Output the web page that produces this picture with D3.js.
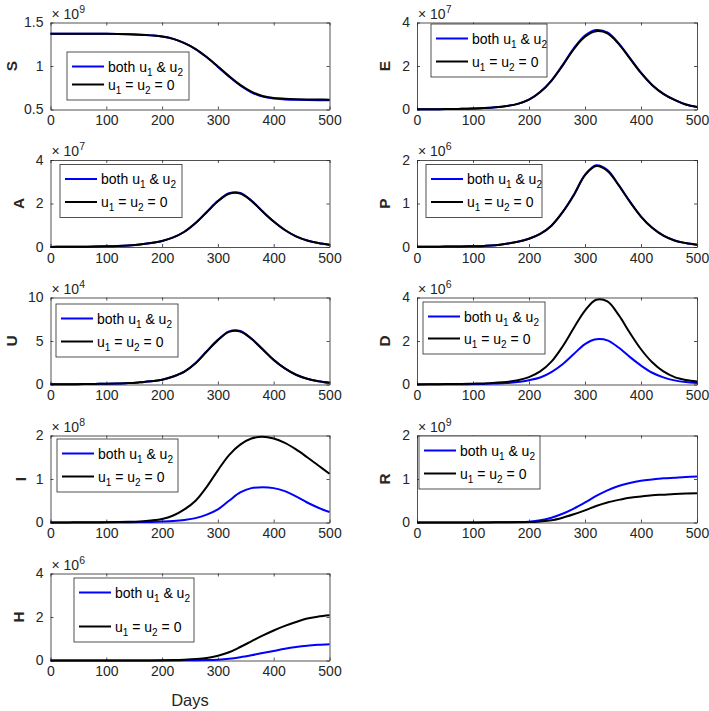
<!DOCTYPE html>
<html><head><meta charset="utf-8">
<script src="https://cdn.jsdelivr.net/npm/d3@7"></script>
<style>body{margin:0;background:#fff} text{font-family:Arial,"Liberation Sans",Helvetica,sans-serif}</style>
</head><body><svg id="c" width="709" height="711"></svg>
<script>
// ---------- DATA ----------
const days = [0,20,40,60,80,100,120,140,160,180,200,220,240,260,280,300,320,340,360,380,400,420,440,460,480,500];
const xTicks = [0,100,200,300,400,500];
const legendLabels = ["both u|1| & u|2|", "u|1| = u|2| = 0"];

// S (x1e9)
const S_both = [1.372,1.372,1.372,1.372,1.371,1.370,1.368,1.365,1.360,1.352,1.340,1.312,1.262,1.195,1.100,0.990,0.878,0.776,0.698,0.648,0.625,0.616,0.611,0.608,0.606,0.605];
const S_none = [1.372,1.372,1.372,1.372,1.371,1.370,1.368,1.365,1.360,1.352,1.340,1.312,1.262,1.195,1.103,0.995,0.885,0.783,0.705,0.655,0.632,0.624,0.619,0.616,0.614,0.613];
// E (x1e7)
const E_both = [0.01,0.01,0.015,0.02,0.03,0.045,0.065,0.10,0.16,0.26,0.45,0.80,1.33,2.04,2.81,3.40,3.65,3.54,3.05,2.37,1.69,1.13,0.72,0.44,0.23,0.12];
const E_none = [0.01,0.01,0.015,0.02,0.03,0.045,0.065,0.10,0.16,0.26,0.45,0.80,1.32,2.02,2.78,3.35,3.60,3.50,3.02,2.35,1.68,1.12,0.72,0.44,0.23,0.12];
// A (x1e7)
const A_both = [0.005,0.007,0.01,0.015,0.02,0.03,0.045,0.07,0.11,0.18,0.28,0.44,0.70,1.10,1.61,2.12,2.47,2.49,2.14,1.64,1.17,0.78,0.49,0.30,0.18,0.10];
const A_none = [0.005,0.007,0.01,0.015,0.02,0.03,0.045,0.07,0.11,0.18,0.28,0.44,0.70,1.10,1.60,2.10,2.45,2.46,2.12,1.63,1.17,0.78,0.49,0.30,0.18,0.10];
// P (x1e6)
const P_both = [0.005,0.006,0.008,0.01,0.013,0.018,0.025,0.04,0.075,0.12,0.19,0.30,0.49,0.80,1.20,1.66,1.88,1.77,1.43,1.05,0.70,0.44,0.26,0.15,0.09,0.05];
const P_none = [0.005,0.006,0.008,0.01,0.013,0.018,0.025,0.04,0.075,0.12,0.19,0.30,0.49,0.80,1.19,1.65,1.86,1.75,1.42,1.04,0.70,0.44,0.26,0.15,0.09,0.05];
// U (x1e4)
const U_both = [0.02,0.03,0.04,0.05,0.07,0.09,0.12,0.16,0.25,0.36,0.55,0.92,1.48,2.46,3.82,5.13,6.10,6.15,5.28,4.07,2.83,1.85,1.12,0.66,0.38,0.20];
const U_none = [0.02,0.03,0.04,0.05,0.07,0.09,0.12,0.16,0.25,0.36,0.55,0.92,1.48,2.45,3.80,5.10,6.05,6.10,5.25,4.05,2.82,1.85,1.12,0.66,0.38,0.20];
// D (x1e6)
const D_both = [0.005,0.006,0.008,0.01,0.014,0.02,0.028,0.045,0.07,0.12,0.20,0.32,0.57,0.93,1.40,1.86,2.08,2.03,1.70,1.27,0.87,0.54,0.33,0.19,0.11,0.07];
const D_none = [0.01,0.012,0.015,0.02,0.028,0.038,0.05,0.08,0.12,0.20,0.34,0.60,1.05,1.75,2.60,3.40,3.90,3.82,3.20,2.38,1.62,1.02,0.60,0.34,0.21,0.14];
// I (x1e8)
const I_both = [0.0005,0.001,0.001,0.0015,0.002,0.003,0.004,0.006,0.009,0.014,0.022,0.035,0.06,0.10,0.18,0.30,0.50,0.69,0.79,0.81,0.79,0.72,0.60,0.46,0.34,0.24];
const I_none = [0.001,0.002,0.003,0.004,0.005,0.007,0.01,0.015,0.025,0.045,0.08,0.16,0.30,0.50,0.82,1.20,1.55,1.79,1.93,1.97,1.93,1.83,1.68,1.50,1.31,1.12];
// R (x1e9)
const R_both = [0,0,0,0.001,0.001,0.002,0.003,0.004,0.006,0.01,0.02,0.05,0.11,0.20,0.32,0.46,0.61,0.74,0.84,0.91,0.96,0.99,1.015,1.03,1.045,1.055];
const R_none = [0,0,0,0,0.001,0.001,0.002,0.003,0.004,0.006,0.01,0.025,0.05,0.11,0.19,0.28,0.38,0.46,0.52,0.57,0.60,0.625,0.64,0.655,0.665,0.67];
// H (x1e6)
const H_both = [0,0,0,0,0,0,0,0,0,0,0.002,0.004,0.006,0.01,0.02,0.04,0.08,0.15,0.24,0.34,0.44,0.54,0.62,0.68,0.72,0.75];
const H_none = [0,0,0,0,0,0,0,0.001,0.002,0.004,0.01,0.02,0.04,0.07,0.12,0.22,0.38,0.62,0.88,1.14,1.38,1.59,1.77,1.93,2.02,2.08];

// y ticks / exponents per panel
const S_ticks=[0.5,1,1.5], E_ticks=[0,2,4], A_ticks=[0,2,4], P_ticks=[0,1,2], U_ticks=[0,5,10],
      D_ticks=[0,2,4], I_ticks=[0,1,2], R_ticks=[0,1,2], H_ticks=[0,2,4];
const exponents = {S:9,E:7,A:7,P:6,U:4,D:6,I:8,R:9,H:6};

// ---------- LAYOUT ----------
const colX = [[50.5,329.5],[417,697]];
const rowTop = [22.5,160,297.5,435.5,573.5];
const axH = 87;
const panels = [
 {n:"S",both:S_both,none:S_none,ticks:S_ticks,c:0,r:0,lg:[16.5,29.5,122,48],yl:34},
 {n:"E",both:E_both,none:E_none,ticks:E_ticks,c:1,r:0,lg:[14,1.5,116,53],yl:27},
 {n:"A",both:A_both,none:A_none,ticks:A_ticks,c:0,r:1,lg:[9.5,4.5,122,53],yl:27},
 {n:"P",both:P_both,none:P_none,ticks:P_ticks,c:1,r:1,lg:[9,4.5,116,53],yl:27},
 {n:"U",both:U_both,none:U_none,ticks:U_ticks,c:0,r:2,lg:[5.5,6.5,122,53],yl:34},
 {n:"D",both:D_both,none:D_none,ticks:D_ticks,c:1,r:2,lg:[6,4.5,122,52],yl:27},
 {n:"I",both:I_both,none:I_none,ticks:I_ticks,c:0,r:3,lg:[6.5,3.5,121,53],yl:25},
 {n:"R",both:R_both,none:R_none,ticks:R_ticks,c:1,r:3,lg:[2,0.5,121,53],yl:27},
 {n:"H",both:H_both,none:H_none,ticks:H_ticks,c:0,r:4,lg:[23.5,4.5,120,64],yl:27}
];

const svg = d3.select("#c");
const AX = "#262626";
const FS = 14;

function richText(sel, str, subSize, shift){
  const parts = str.split("|");
  let cur = 0;
  parts.forEach((p,i)=>{
    const sub = i%2===1;
    const target = sub ? shift : 0;
    const t = sel.append("tspan").text(p).attr("dy", target-cur);
    if(sub) t.attr("font-size", subSize);
    cur = target;
  });
}

panels.forEach(p=>{
  const [x0,x1] = colX[p.c];
  const y0 = rowTop[p.r], y1 = y0+axH;
  const x = d3.scaleLinear().domain([0,500]).range([x0,x1]);
  const y = d3.scaleLinear().domain([p.ticks[0], p.ticks[p.ticks.length-1]]).range([y1,y0]);
  const g = svg.append("g");

  const xb = g.append("g").attr("transform",`translate(0,${y1})`)
    .call(d3.axisBottom(x).tickValues(xTicks).tickSize(-3).tickSizeOuter(0).tickPadding(6));
  const xt = g.append("g").attr("transform",`translate(0,${y0})`)
    .call(d3.axisTop(x).tickValues(xTicks).tickSize(-3).tickSizeOuter(0).tickFormat(""));
  const yl = g.append("g").attr("transform",`translate(${x0},0)`)
    .call(d3.axisLeft(y).tickValues(p.ticks).tickSize(-3).tickSizeOuter(0).tickPadding(7).tickFormat(d3.format("~g")));
  const yr = g.append("g").attr("transform",`translate(${x1},0)`)
    .call(d3.axisRight(y).tickValues(p.ticks).tickSize(-3).tickSizeOuter(0).tickFormat(""));
  [xb,xt,yl,yr].forEach(a=>{
    a.selectAll("path").attr("stroke",AX).attr("stroke-width",0.8);
    a.selectAll("line").attr("stroke",AX).attr("stroke-width",0.8);
    a.selectAll("text").attr("fill",AX).attr("font-size",FS).attr("font-family","Arial, 'Liberation Sans', sans-serif");
  });

  const line = d3.line().x((d,i)=>x(days[i])).y(d=>y(Math.max(d,p.ticks[0]))).curve(d3.curveCatmullRom.alpha(0.5));
  g.append("path").datum(p.both).attr("d",line).attr("fill","none").attr("stroke","#0000ff").attr("stroke-width",2);
  g.append("path").datum(p.none).attr("d",line).attr("fill","none").attr("stroke","#000000").attr("stroke-width",2);

  // exponent
  const ex = g.append("text").attr("x",x0+1).attr("y",y0-4).attr("fill",AX).attr("font-size",FS);
  ex.append("tspan").text("\u00d7 10");
  ex.append("tspan").text(exponents[p.n]).attr("font-size",10.5).attr("dy",-6);

  g.append("text").attr("transform",`translate(${x0-p.yl},${(y0+y1)/2}) rotate(-90)`)
    .attr("text-anchor","middle").attr("font-weight","bold").attr("font-size",15.4).attr("fill",AX).text(p.n);

  const [ldx,ldy,lw,lh] = p.lg;
  const lg = g.append("g").attr("transform",`translate(${x0+ldx},${y0+ldy})`);
  lg.append("rect").attr("width",lw).attr("height",lh).attr("fill","#fff").attr("stroke",AX).attr("stroke-width",0.8);
  const rows = [14.5, lh-15.5];
  ["#0000ff","#000000"].forEach((col,i)=>{
    lg.append("line").attr("x1",5).attr("x2",37).attr("y1",rows[i]).attr("y2",rows[i]).attr("stroke",col).attr("stroke-width",2);
    const t = lg.append("text").attr("x",41).attr("y",rows[i]+5).attr("font-size",FS).attr("fill","#000");
    richText(t, legendLabels[i], 10, 4);
  });
});

svg.append("text").attr("x",(colX[0][0]+colX[0][1])/2).attr("y",706).attr("text-anchor","middle")
  .attr("font-size",16.5).attr("fill",AX).text("Days");
</script></body></html>
